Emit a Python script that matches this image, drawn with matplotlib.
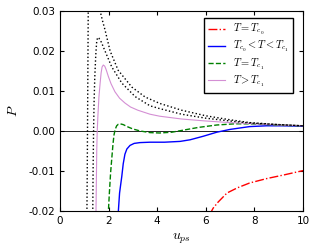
import matplotlib
matplotlib.use('Agg')
import matplotlib.pyplot as plt

plt.rcParams['mathtext.fontset'] = 'cm'
plt.rcParams['font.size'] = 7.5

# curves (u_ps, P)
u_red = [6.15, 6.3, 6.5, 6.87, 7.3, 7.8, 8.5, 9.2, 10.0]
p_red = [-0.021, -0.0193, -0.0178, -0.0155, -0.0142, -0.013, -0.0119, -0.011, -0.0099]

u_blue = [2.38, 2.4, 2.45, 2.5, 2.54, 2.6, 2.67, 2.75, 2.88, 3.05, 3.29, 3.7, 4.3, 4.94,
          5.35, 5.9, 6.45, 7.0, 7.8, 8.5, 9.2, 10.0]
p_blue = [-0.025, -0.02, -0.0155, -0.0132, -0.0114, -0.0082, -0.0058, -0.0045, -0.0036,
          -0.0031, -0.0029, -0.0028, -0.0028, -0.0026, -0.0022, -0.0013, -0.0003, 0.0004,
          0.0011, 0.0013, 0.0013, 0.0012]

u_green = [1.96, 1.99, 2.03, 2.08, 2.13, 2.18, 2.22, 2.27, 2.33, 2.4, 2.47, 2.6, 2.8, 3.0,
           3.3, 3.7, 4.1, 4.6, 5.06, 5.7, 6.45, 7.2, 7.8, 8.5, 9.2, 10.0]
p_green = [-0.025, -0.02, -0.0155, -0.0105, -0.0068, -0.0032, -0.001, 0.0004, 0.0013,
           0.0017, 0.0018, 0.0016, 0.001, 0.0005, 0.0, -0.0004, -0.0005, -0.0003, 0.0002,
           0.0009, 0.0015, 0.0018, 0.0018, 0.0016, 0.0014, 0.0013]

u_pink = [1.47, 1.49, 1.51, 1.53, 1.56, 1.6, 1.65, 1.69, 1.73, 1.78, 1.84, 1.9, 1.99, 2.1,
          2.26, 2.45, 2.67, 2.9, 3.2, 3.7, 4.1, 5.0, 6.0, 7.0, 8.0, 9.0, 10.0]
p_pink = [-0.025, -0.015, -0.005, 0.0, 0.004, 0.0085, 0.012, 0.0145, 0.016, 0.0165, 0.0162,
          0.0153, 0.0136, 0.0118, 0.0098, 0.0082, 0.007, 0.006, 0.0052, 0.0042, 0.0037,
          0.003, 0.0025, 0.0021, 0.0018, 0.0015, 0.0013]

u_dot1 = [1.10, 1.12, 1.14, 1.16, 1.2, 1.3, 1.45, 1.58, 1.65, 1.75, 1.85, 2.06, 2.39, 2.95,
          3.5, 4.1, 5.0, 6.0, 7.0, 7.8, 9.0, 10.0]
p_dot1 = [-0.025, -0.01, 0.01, 0.03, 0.045, 0.05, 0.045, 0.035, 0.03, 0.0275, 0.0253,
          0.02, 0.0152, 0.011, 0.0085, 0.0069, 0.0052, 0.0038, 0.0028, 0.0021, 0.0016, 0.0013]

u_dot2 = [1.34, 1.36, 1.38, 1.4, 1.43, 1.47, 1.51, 1.55, 1.6, 1.7, 1.85, 2.13, 2.54, 3.09,
          3.7, 4.1, 5.0, 6.0, 7.0, 7.8, 9.0, 10.0]
p_dot2 = [-0.025, -0.01, 0.0, 0.007, 0.0135, 0.019, 0.0225, 0.0234, 0.0232, 0.0222,
          0.02, 0.016, 0.012, 0.0086, 0.0063, 0.0056, 0.0042, 0.0032, 0.0025, 0.002,
          0.0016, 0.0013]

labels = [r'$T=T_{c_0}$', r'$T_{c_0}<T<T_{c_1}$', r'$T=T_{c_1}$', r'$T>T_{c_1}$']

fig = plt.figure(figsize=(3.16, 2.5), dpi=100)
ax = fig.add_axes([0.19, 0.156, 0.769, 0.8])

ax.axhline(0, color='k', lw=0.6)
ax.plot(u_red, p_red, 'r-.', lw=1, label=labels[0])
ax.plot(u_blue, p_blue, 'b-', lw=1, label=labels[1])
ax.plot(u_green, p_green, '--', color=(0, 0.5, 0), lw=1, label=labels[2])
ax.plot(u_pink, p_pink, '-', color='#d48fd4', lw=0.8, label=labels[3])
ax.plot(u_dot1, p_dot1, 'k:', lw=1)
ax.plot(u_dot2, p_dot2, 'k:', lw=1)

ax.set_xlim(0, 10)
ax.set_ylim(-0.02, 0.03)
ax.set_xticks([0, 2, 4, 6, 8, 10])
ax.set_yticks([-0.02, -0.01, 0.0, 0.01, 0.02, 0.03])
ax.yaxis.set_major_formatter(matplotlib.ticker.FormatStrFormatter('%.2f'))
ax.tick_params(direction='in', top=True, right=True, length=3)
ax.set_xlabel(r'$u_{ps}$', fontsize=10)
ax.set_ylabel(r'$P$', fontsize=10, labelpad=6)

leg = ax.legend(loc='upper right', fontsize=7.5, fancybox=False, framealpha=1,
                handlelength=1.6, borderpad=0.4, labelspacing=0.2,
                bbox_to_anchor=(0.98, 0.99))
leg.get_frame().set_edgecolor('k')

fig.savefig('out.png', dpi=100)
